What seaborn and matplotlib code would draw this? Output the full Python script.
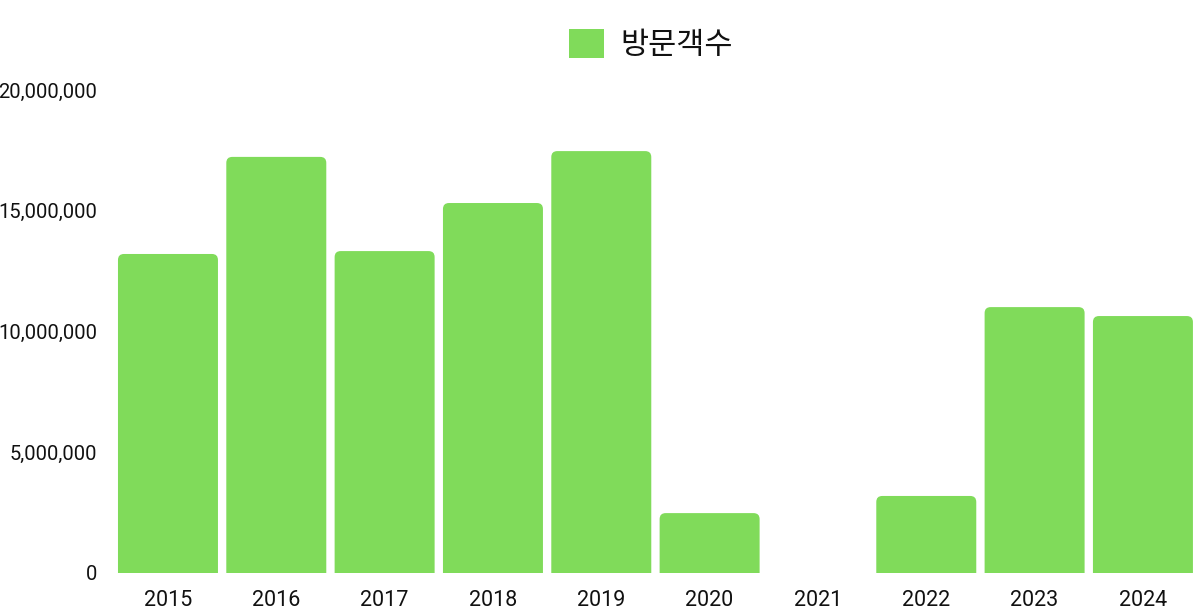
import matplotlib
matplotlib.use("Agg")
import matplotlib.pyplot as plt
import seaborn as sns
import pandas as pd
from matplotlib import font_manager
from matplotlib.patches import FancyBboxPatch, Patch
from matplotlib.ticker import FuncFormatter

# -----------------------------
# Data
# -----------------------------
years = ["2015", "2016", "2017", "2018", "2019", "2020", "2021", "2022", "2023", "2024"]
visitors = [13210000, 17230000, 13330000, 15320000, 17470000, 2480000, 0, 3190000, 11010000, 10640000]
series_name = "방문객수"

df = pd.DataFrame({"year": years, "visitors": visitors})

bar_color = "#80db5a"
text_color = "#111111"

sns.set_style("white")
plt.rcParams["font.family"] = ["Roboto", "DejaVu Sans"]

# no condensed face installed, so Roboto at a size that keeps the labels inside
ytick_font = font_manager.FontProperties(family=["Roboto", "DejaVu Sans"], size=14.5)
xtick_font = font_manager.FontProperties(family=["Roboto", "DejaVu Sans"], size=15.5)

# -----------------------------
# Figure / axes (pixel layout of the original)
# -----------------------------
W, H = 1194, 615
left_px, width_px = 113.8, 1083.3
fig = plt.figure(figsize=(W / 100, H / 100), dpi=100)
ax = fig.add_axes([left_px / W, (H - 573) / H, width_px / W, (573 - 90) / H])

sns.barplot(data=df, x="year", y="visitors", color=bar_color, width=0.923,
            saturation=1, ax=ax)

ax.set_ylim(0, 20000000)
ax.set_xlim(-0.5, len(years) - 0.5)

# rounded tops: swap each bar for a rounded box that dips below the baseline
px_x = len(years) / width_px
px_y = 20000000 / 483.0
aspect = px_y / px_x
radius = 6 * px_x
for p in list(ax.patches):
    x, w, h = p.get_x(), p.get_width(), p.get_height()
    p.set_visible(False)
    if h <= 0:
        continue
    extra = 12 * px_y
    box = FancyBboxPatch((x, -extra), w, h + extra,
                         boxstyle=f"round,pad=0,rounding_size={radius}",
                         mutation_aspect=aspect, facecolor=bar_color,
                         edgecolor="none", clip_on=True)
    ax.add_patch(box)

ax.yaxis.set_major_formatter(FuncFormatter(lambda v, _: f"{int(v):,}"))
ax.set_yticks([0, 5000000, 10000000, 15000000, 20000000])
ax.tick_params(axis="both", length=0, colors=text_color)
ax.tick_params(axis="y", pad=12)
ax.tick_params(axis="x", pad=12)
for lab in ax.get_yticklabels():
    lab.set_fontproperties(ytick_font)
for lab in ax.get_xticklabels():
    lab.set_fontproperties(xtick_font)
ax.set_xlabel("")
ax.set_ylabel("")
sns.despine(ax=ax, left=True, bottom=True)

# -----------------------------
# Legend on top
# -----------------------------
handle = Patch(facecolor=bar_color, edgecolor="none")
fig.legend([handle], [series_name], loc="center", bbox_to_anchor=(0.545, 0.927),
           frameon=False, handlelength=1.15, handleheight=1.1, handletextpad=0.55,
           labelcolor=text_color,
           prop={"family": ["Noto Sans CJK KR", "DejaVu Sans"], "size": 22})

fig.savefig("out.png", dpi=100)
